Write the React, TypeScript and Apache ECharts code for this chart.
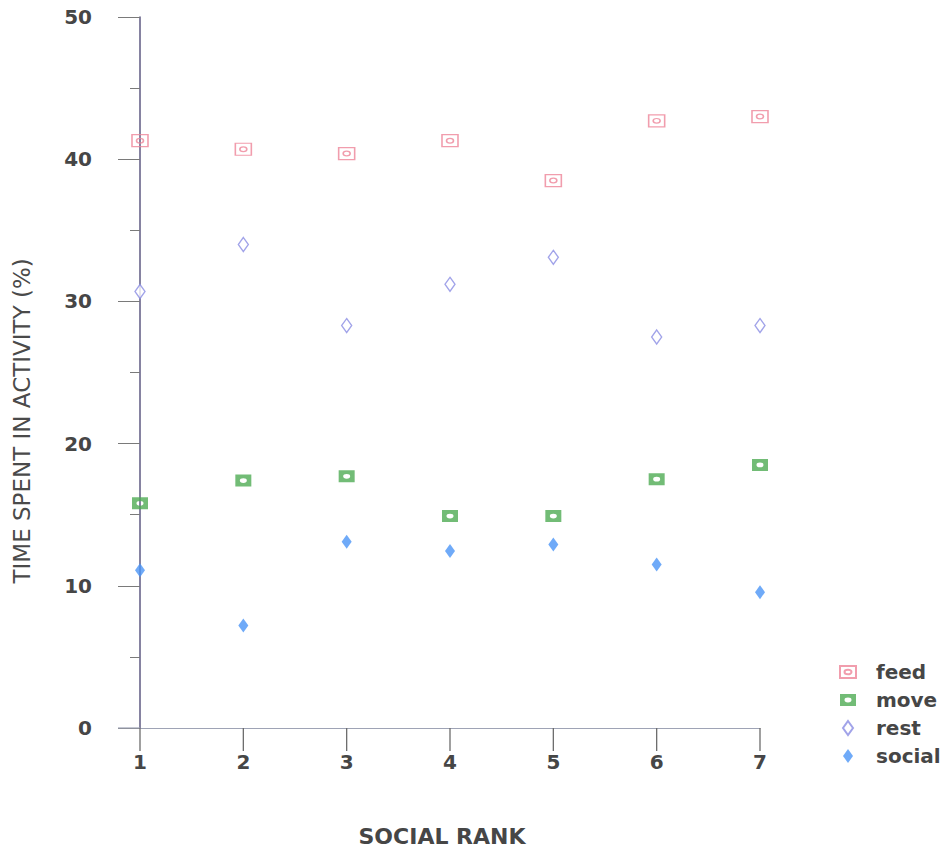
import React, { useEffect, useRef } from "react";
import * as echarts from "echarts";

const ranks = [1, 2, 3, 4, 5, 6, 7];
const feed = [41.3, 40.7, 40.4, 41.3, 38.5, 42.7, 43.0];
const move = [15.8, 17.4, 17.7, 14.9, 14.9, 17.5, 18.5];
const rest = [30.7, 34.0, 28.3, 31.2, 33.1, 27.5, 28.3];
const social = [11.1, 7.2, 13.1, 12.45, 12.9, 11.5, 9.55];

const seriesNames = ["feed", "move", "rest", "social"];

// symbol paths drawn in an 18 x 14 box (the first two moves fix the box)
const BOX = "M0,0 M18,14 ";
const feedPath =
  "path://" + BOX + "M1,1 L17,1 L17,13 L1,13 Z M5.5,7 A3.5,2.3 0 1,1 12.5,7 A3.5,2.3 0 1,1 5.5,7 Z";
const movePath =
  "path://" + BOX + "M1,1 L17,1 L17,13 L1,13 Z M5.5,7 A3.5,2.4 0 1,0 12.5,7 A3.5,2.4 0 1,0 5.5,7 Z";
const diamondPath = "path://" + BOX + "M9,0 L14,7 L9,14 L4,7 Z";

const pairs = (vals: number[]) => ranks.map((r, i) => [r, vals[i]]);

export default function App() {
  const ref = useRef<HTMLDivElement>(null);
  useEffect(() => {
    document.body.style.margin = "0";
    const chart = echarts.init(ref.current!, null, { renderer: "svg" });
    const labelFont = {
      fontFamily: "DejaVu Sans",
      fontWeight: "bold" as const,
      fontSize: 20,
      color: "#464646",
    };
    chart.setOption({
      animation: false,
      backgroundColor: "#ffffff",
      grid: {
        left: 140,
        right: 190,
        top: 17,
        bottom: 125,
        containLabel: false,
        outerBoundsMode: "none",
      },
      legend: {
        orient: "vertical",
        left: 833,
        top: 657,
        itemWidth: 18,
        itemHeight: 14,
        itemGap: 8,
        data: seriesNames,
        textStyle: { ...labelFont, lineHeight: 20, padding: [0, 0, 0, 14] },
      },
      xAxis: {
        type: "value",
        min: 1,
        max: 7,
        interval: 1,
        name: "SOCIAL RANK",
        nameLocation: "middle",
        nameGap: 97,
        nameTextStyle: { ...labelFont, fontSize: 22, padding: [0, 0, 0, -16] },
        axisLine: { show: true, lineStyle: { color: "#9ea3b5", width: 1.2 } },
        axisTick: { show: false },
        axisLabel: { ...labelFont, margin: 24 },
        splitLine: { show: false },
      },
      yAxis: {
        type: "value",
        min: 0,
        max: 50,
        interval: 10,
        axisLine: { show: true, lineStyle: { color: "#5e5a82", width: 1.5 } },
        axisTick: { show: true, length: 22, lineStyle: { color: "#7a7a7a", width: 1 } },
        minorTick: { show: true, splitNumber: 2, length: 10, lineStyle: { color: "#7a7a7a", width: 1 } },
        axisLabel: { ...labelFont, margin: 48 },
        splitLine: { show: false },
      },
      series: [
        {
          name: "feed",
          type: "scatter",
          symbol: feedPath,
          symbolSize: [18, 14],
          data: pairs(feed),
          itemStyle: { color: "rgba(255,255,255,0)", borderColor: "#ee8498", borderWidth: 1.4 },
        },
        {
          name: "move",
          type: "scatter",
          symbol: movePath,
          symbolSize: [18, 14],
          data: pairs(move),
          itemStyle: { color: "#4fab54" },
        },
        {
          name: "rest",
          type: "scatter",
          symbol: diamondPath,
          symbolSize: [18, 14],
          data: pairs(rest),
          itemStyle: { color: "#ffffff", borderColor: "#8a8ce4", borderWidth: 1.3 },
        },
        {
          name: "social",
          type: "scatter",
          symbol: diamondPath,
          symbolSize: [18, 14],
          data: pairs(social),
          itemStyle: { color: "#4b95f6" },
        },
      ],
    });
    // x ticks, axis-line stub to the left of rank 1, and the rotated y title
    const origin = chart.convertToPixel({ gridIndex: 0 }, [1, 0]) as number[];
    const mid = chart.convertToPixel({ gridIndex: 0 }, [1, 21.6]) as number[];
    const tickLines = ranks.map((r) => {
      const p = chart.convertToPixel({ gridIndex: 0 }, [r, 0]) as number[];
      return {
        type: "line",
        shape: { x1: p[0], y1: p[1], x2: p[0], y2: p[1] + 23 },
        style: { stroke: "#6c6c6c", lineWidth: 1.3 },
        z: 10,
      };
    });
    chart.setOption({
      graphic: [
        ...tickLines,
        {
          type: "line",
          shape: { x1: origin[0] - 22, y1: origin[1], x2: origin[0], y2: origin[1] },
          style: { stroke: "#9ea3b5", lineWidth: 1.2 },
          z: 1,
        },
        {
          type: "text",
          x: 22,
          y: mid[1],
          rotation: Math.PI / 2,
          style: {
            text: "TIME SPENT IN ACTIVITY (%)",
            fontFamily: "DejaVu Sans",
            fontSize: 23,
            fill: "#4a4a4a",
            align: "center",
            verticalAlign: "middle",
          },
        },
      ],
    });
    return () => chart.dispose();
  }, []);
  return <div ref={ref} style={{ width: 950, height: 853 }} />;
}
